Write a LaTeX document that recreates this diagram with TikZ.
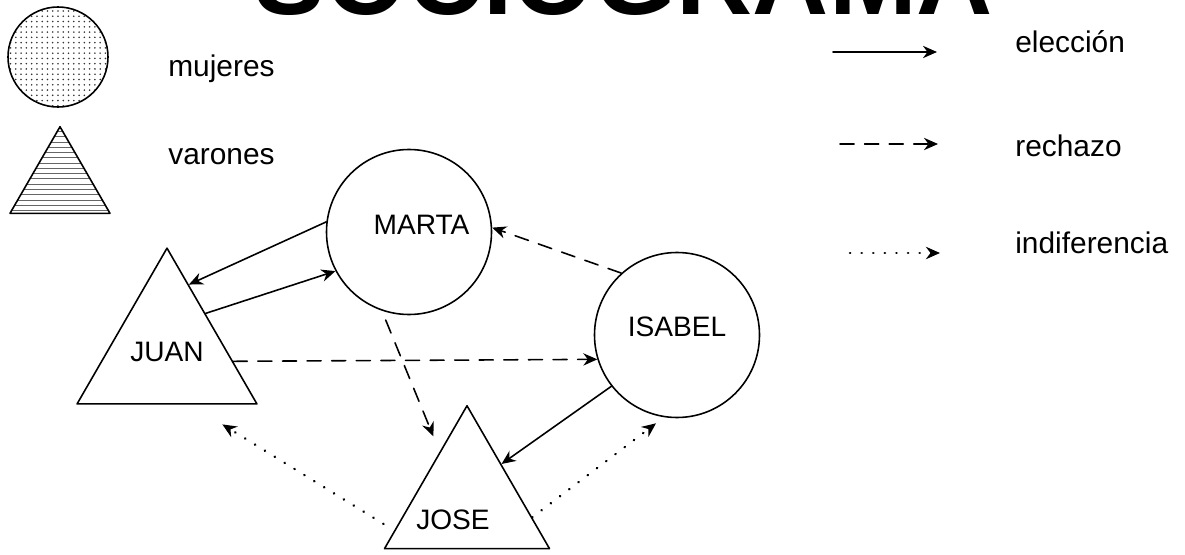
\documentclass[tikz,border=0pt]{standalone}
\usepackage{fontspec}
\setmainfont{Liberation Sans}
\usetikzlibrary{arrows.meta,shapes.geometric,patterns}
\begin{document}
\begin{tikzpicture}[line cap=round, line join=round, font=\fontsize{17}{20}\selectfont, >={Stealth[length=8pt,width=7pt]}]
	\tikzset{girl/.style={circle, draw, line width=0.9pt, minimum size=3.3cm, inner sep=0pt, font=\fontsize{16}{19}\selectfont},
		boy/.style={regular polygon, regular polygon sides=3, draw, line width=0.9pt, minimum size=3.81cm, inner sep=0pt, font=\fontsize{16}{19}\selectfont},
		legtext/.style={anchor=base west, inner sep=0pt},
		choice/.style={->, line width=0.9pt},
		reject/.style={->, line width=0.9pt, dash pattern=on 8pt off 6pt},
		indif/.style={->, line width=1.5pt, dash pattern=on 0.1pt off 6.5pt}}
	\useasboundingbox (0,0) rectangle (23.7,11.08);
	\node (title) [font=\fontsize{60}{72}\selectfont\bfseries, anchor=base, inner sep=0pt] at (12.48,10.78) {SOCIOGRAMA};
	% leyenda
	\node (lgirl) [circle, draw, line width=0.9pt, minimum size=2cm, pattern=dots, pattern color=black!80] at (1.16,9.94) {};
	\node (lboy) [regular polygon, regular polygon sides=3, draw, line width=0.9pt, minimum size=2.31cm, inner sep=0pt, pattern=horizontal lines, pattern color=black!60] at (1.20,7.39) {};
	\node (lmuj) [legtext] at (3.36,9.54) {mujeres};
	\node (lvar) [legtext] at (3.36,7.78) {varones};
	\node (lele) [legtext] at (20.30,10.02) {elección};
	\node (lrec) [legtext] at (20.30,7.94) {rechazo};
	\node (lind) [legtext] at (20.30,6.00) {indiferencia};
	\coordinate (e1) at (16.66,10.04); \coordinate (e2) at (18.74,10.04);
	\coordinate (r1) at (16.80,8.20); \coordinate (r2) at (18.76,8.20);
	\coordinate (i1) at (17.00,6.02); \coordinate (i2) at (18.80,6.02);
	\draw[choice] (e1) -- (e2);
	\draw[reject] (r1) -- (r2);
	\draw[indif] (i1) -- (i2);
	% personas
	\node (marta) [girl, text depth=0.28cm] at (8.18,6.44) {\hspace*{0.5cm}MARTA};
	\node (isabel) [girl, text depth=0.32cm] at (13.54,4.38) {ISABEL};
	\node (juan) [boy] at (3.34,4.04) {JUAN};
	\node (jose) [boy, label={[xshift=-0.28cm, yshift=-0.38cm, font=\fontsize{16}{19}\selectfont]center:JOSE}] at (9.34,1.06) {};
	% relaciones
	\draw[choice] (marta.173) -- (juan.72);
	\draw[choice] (juan.45) -- (marta.208);
	\draw[choice] (isabel.218) -- (jose.47);
	\draw[reject] (juan.-8) -- (isabel.197);
	\draw[reject, shorten <=0.2cm, shorten >=0.33cm] (marta.-109) -- (jose.119);
	\draw[reject] (isabel.132) -- (marta.3.5);
	\draw[indif, shorten <=0.25cm, shorten >=0.75cm] (jose.202) -- (juan.-66);
	\draw[indif, shorten >=0.2cm] (jose.-14) -- (isabel.261);
\end{tikzpicture}
\end{document}
